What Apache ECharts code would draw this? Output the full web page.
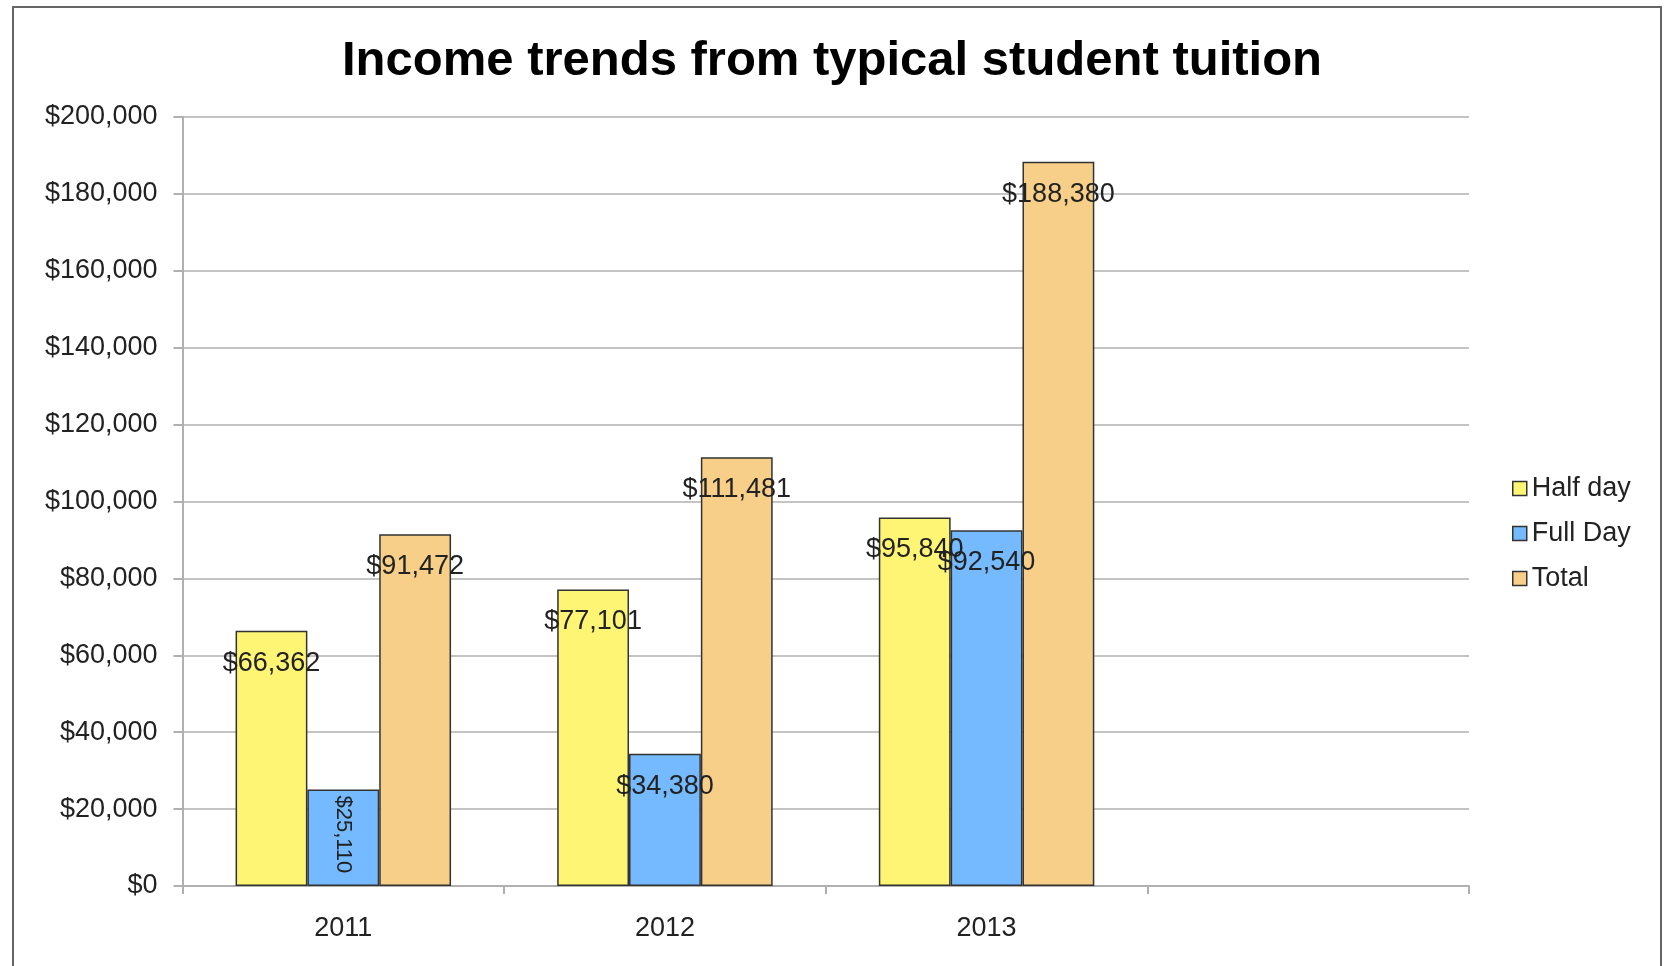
<!DOCTYPE html>
<html>
<head>
<meta charset="utf-8">
<script src="https://cdn.jsdelivr.net/npm/echarts@6/dist/echarts.min.js"></script>
<style>
html,body{margin:0;padding:0;background:#fff;}
#chart{width:1664px;height:966px;}
</style>
</head>
<body>
<div id="chart"></div>
<script>
const categories = ['2011', '2012', '2013', ''];
const halfDay = [66362, 77101, 95840, null];
const fullDay = [25110, 34380, 92540, null];
const total = [91472, 111481, 188380, null];
const seriesNames = ['Half day', 'Full Day', 'Total'];
const yTicks = { min: 0, max: 200000, interval: 20000 };

const FONT = '"Liberation Sans", Arial, Helvetica, sans-serif';
const colors = ['#FEF575', '#75BAFE', '#F7CF88'];
const money = v => '$' + Number(v).toLocaleString('en-US');

const baseLabel = {
  show: true,
  position: 'insideTop',
  distance: 19,
  fontFamily: FONT,
  fontSize: 27,
  color: '#222',
  formatter: p => money(p.value)
};

function mkSeries(name, arr, idx) {
  return {
    name: name,
    type: 'bar',
    barGap: '0%',
    barCategoryGap: '33%',
    itemStyle: { color: colors[idx], borderColor: '#333', borderWidth: 1.5 },
    label: baseLabel,
    data: arr.map((v, i) => {
      if (v === null) return '-';
      if (idx === 1 && i === 0) {
        return {
          value: v,
          label: { rotate: -90, position: 'insideTop', distance: 6, align: 'left', verticalAlign: 'middle', fontSize: 22 }
        };
      }
      return v;
    })
  };
}

const chart = echarts.init(document.getElementById('chart'), null, { renderer: 'canvas' });
chart.setOption({
  backgroundColor: '#fff',
  animation: false,
  graphic: [{
    type: 'rect',
    shape: { x: 13, y: 7, width: 1648, height: 1000 },
    style: { fill: 'none', stroke: '#666', lineWidth: 2 },
    z: 100
  }],
  title: {
    text: 'Income trends from typical student tuition',
    left: 'center',
    top: 32,
    textStyle: { fontFamily: FONT, fontSize: 49, fontWeight: 'bold', color: '#000' }
  },
  legend: {
    orient: 'vertical',
    left: 1507,
    top: 470,
    itemWidth: 14,
    itemHeight: 14,
    itemGap: 18,
    icon: 'rect',
    itemStyle: { borderColor: '#333', borderWidth: 1.5 },
    textStyle: { fontFamily: FONT, fontSize: 27, color: '#222' },
    data: seriesNames
  },
  grid: { left: 182.5, right: 195, top: 117, bottom: 80, containLabel: false },
  xAxis: {
    type: 'category',
    data: categories,
    boundaryGap: true,
    axisLine: { lineStyle: { color: '#b0b0b0', width: 2 } },
    axisTick: { show: true, length: 8, lineStyle: { color: '#b0b0b0', width: 2 } },
    axisLabel: { fontFamily: FONT, fontSize: 27, color: '#222', margin: 29 },
    splitLine: { show: false }
  },
  yAxis: {
    type: 'value',
    min: yTicks.min,
    max: yTicks.max,
    interval: yTicks.interval,
    axisLine: { show: true, lineStyle: { color: '#b0b0b0', width: 2 } },
    axisTick: { show: true, length: 9, lineStyle: { color: '#b0b0b0', width: 2 } },
    axisLabel: { fontFamily: FONT, fontSize: 27, color: '#222', margin: 25, formatter: v => money(v) },
    splitLine: { show: true, lineStyle: { color: '#c4c4c4', width: 2 } }
  },
  series: [
    mkSeries(seriesNames[0], halfDay, 0),
    mkSeries(seriesNames[1], fullDay, 1),
    mkSeries(seriesNames[2], total, 2)
  ]
});
</script>
</body>
</html>
